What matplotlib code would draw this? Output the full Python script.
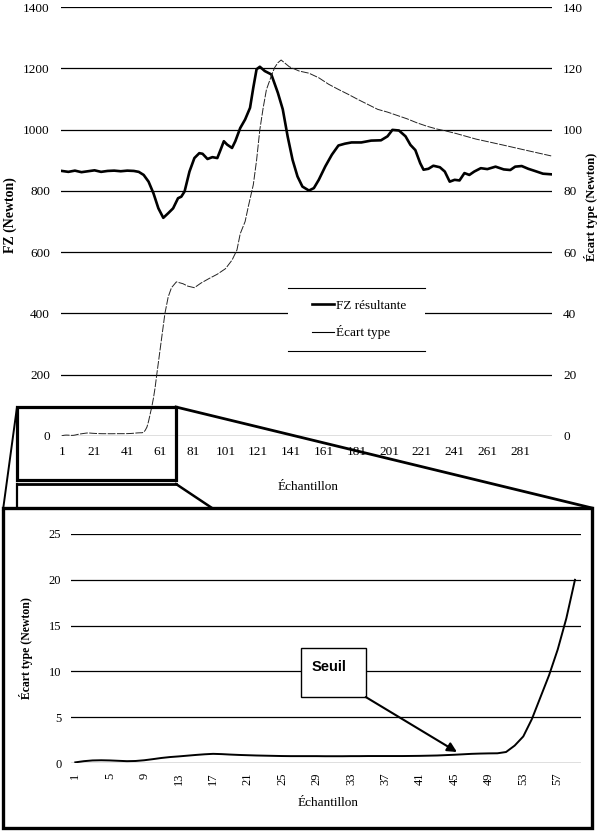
import matplotlib.pyplot as plt
from matplotlib.lines import Line2D
from matplotlib.patches import Rectangle

plt.rcParams['font.family'] = ['Liberation Serif', 'DejaVu Sans']

# --- top chart : FZ resultante (left axis)
fz_x = [1, 5, 9, 13, 17, 21, 25, 29, 33, 37, 41, 45, 48, 51, 54, 57, 60, 63, 66, 69,
        72, 74, 76, 79, 82, 85, 87, 90, 93, 96, 98, 100, 102, 105, 107, 110, 113, 116,
        118, 120, 122, 125, 129, 133, 136, 139, 142, 145, 148, 152, 155, 158, 162, 166,
        170, 174, 178, 184, 190, 196, 200, 203, 207, 211, 214, 217, 220, 222, 225, 228,
        232, 235, 238, 241, 244, 247, 250, 253, 257, 261, 266, 271, 275, 278, 282, 286,
        290, 295, 300]
fz_y = [865, 862, 866, 861, 864, 867, 862, 865, 866, 864, 866, 865, 862, 852, 830, 792,
        743, 712, 727, 743, 776, 781, 798, 863, 907, 923, 921, 904, 910, 907, 934, 962,
        951, 940, 962, 1005, 1033, 1071, 1137, 1197, 1205, 1191, 1180, 1120, 1066, 977,
        901, 847, 814, 801, 809, 836, 880, 918, 948, 954, 958, 958, 964, 965, 978, 999,
        997, 978, 950, 933, 890, 869, 872, 882, 877, 863, 830, 836, 834, 858, 852, 863,
        874, 871, 879, 870, 868, 879, 881, 872, 865, 856, 854]

# --- bottom chart : ecart type, samples 1..59
zoom_x = list(range(1, 60))
zoom_y = [0.07, 0.2, 0.28, 0.3, 0.28, 0.24, 0.2, 0.22, 0.3, 0.42,
          0.55, 0.65, 0.72, 0.8, 0.88, 0.95, 1.0, 0.97, 0.92, 0.88,
          0.85, 0.82, 0.8, 0.78, 0.76, 0.75, 0.75, 0.75, 0.75, 0.74,
          0.74, 0.74, 0.75, 0.75, 0.76, 0.76, 0.76, 0.76, 0.76, 0.77,
          0.78, 0.8, 0.82, 0.86, 0.9, 0.95, 1.0, 1.03, 1.05, 1.06,
          1.2, 1.9, 2.9, 4.8, 7.2, 9.6, 12.4, 15.8, 20.0]

# ecart type after sample 59 (right axis of the top chart)
ecart_x_rest = [61, 62, 64, 66, 68, 71, 75, 78, 82, 86, 91, 96, 101, 105, 108, 110, 113,
                115, 118, 120, 122, 124, 126, 129, 131, 133, 135, 140, 146, 152, 158, 164,
                170, 176, 182, 188, 194, 200, 206, 212, 218, 224, 230, 236, 242, 248, 254,
                260, 271, 285, 300]
ecart_y_rest = [28, 32, 40, 45.4, 48.4, 50.3, 49.7, 48.9, 48.4, 49.9, 51.4, 52.8, 54.6,
                57.4, 60.7, 66, 70, 75, 82, 90, 100, 107, 113, 117.5, 120.2, 121.8, 122.7,
                120.5, 119.1, 118.4, 116.9, 114.8, 113.1, 111.5, 109.8, 108.2, 106.6,
                105.7, 104.6, 103.5, 102.2, 101.1, 100.2, 99.5, 98.7, 97.8, 96.9, 96.2,
                94.9, 93.2, 91.4]

ecart_x = zoom_x + ecart_x_rest
ecart_y = zoom_y + ecart_y_rest

W, H = 602, 831


def fx(px):
    return px / W


def fy(py):
    return 1 - py / H


fig = plt.figure(figsize=(W / 100, H / 100), dpi=100)

# ---------------- top chart
ax = fig.add_axes([fx(61), fy(436), 491 / W, 429 / H])
ax.set_xlim(0.5, 300.5)
ax.set_ylim(0, 1400)
ax.set_yticks(range(0, 1401, 200))
ax.set_xticks(range(1, 300, 20))
ax.grid(axis='y', color='black', lw=0.9)
ax.set_axisbelow(True)
for s in ax.spines.values():
    s.set_visible(False)
ax.tick_params(length=0, labelsize=9.5)
ax.tick_params(axis='y', pad=8)
ax.tick_params(axis='x', pad=7)
ax.plot(fz_x, fz_y, color='black', lw=1.9, zorder=3)
ax.set_ylabel('FZ (Newton)', fontsize=10, fontweight='bold')
ax.yaxis.set_label_coords(-0.09, 0.515)
ax.set_xlabel('Échantillon', fontsize=9.5)
ax.xaxis.set_label_coords(0.503, -0.105)

ax2 = ax.twinx()
ax2.set_ylim(0, 140)
ax2.set_yticks(range(0, 141, 20))
for s in ax2.spines.values():
    s.set_visible(False)
ax2.tick_params(length=0, labelsize=9.5, pad=8)
ax2.plot(ecart_x, ecart_y, color='#222222', lw=0.7, dashes=(8, 1.5), zorder=3)
ax2.set_ylabel('Écart type (Newton)', fontsize=9, fontweight='bold')
ax2.yaxis.set_label_coords(1.065, 0.535)

# legend: white block with a line above and below
lx0, lx1 = (288 - 61) / 491, (425 - 61) / 491
ly0, ly1 = (436 - 351) / 429, (436 - 288) / 429
ax2.add_patch(Rectangle((lx0, ly0), lx1 - lx0, ly1 - ly0, transform=ax2.transAxes,
                        facecolor='white', edgecolor='none', zorder=4))
for yy in (ly0, ly1):
    ax2.plot([lx0, lx1], [yy, yy], transform=ax2.transAxes, color='black', lw=0.8, zorder=5)
handles = [Line2D([], [], color='black', lw=1.9), Line2D([], [], color='black', lw=0.8)]
leg = ax2.legend(handles, ['FZ résultante', 'Écart type'], loc='center',
                 bbox_to_anchor=((lx0 + lx1) / 2 + 0.006, (ly0 + ly1) / 2), frameon=False,
                 fontsize=9.5, handlelength=1.6, handletextpad=0.2, labelspacing=1.0)
leg.set_zorder(6)

# ---------------- zoom box and connectors (figure pixels)
fig.add_artist(Rectangle((fx(17), fy(480)), 159 / W, 73 / H, transform=fig.transFigure,
                         fill=False, edgecolor='black', lw=2.3))
connectors = [((17, 407), (3, 510), 1.4), ((176, 407), (592, 508), 2.0),
              ((17, 484), (176, 484), 2.0), ((17, 484), (17, 508), 1.6),
              ((176, 484), (212, 508), 1.8)]
for (x0, y0), (x1, y1), lw in connectors:
    fig.add_artist(Line2D([fx(x0), fx(x1)], [fy(y0), fy(y1)], transform=fig.transFigure,
                          color='black', lw=lw))

# panel frame for the zoomed chart
fig.add_artist(Rectangle((fx(3), fy(828)), 589 / W, 320 / H, transform=fig.transFigure,
                         fill=False, edgecolor='black', lw=2.4))

# ---------------- bottom chart
bx = fig.add_axes([fx(71), fy(763), 510 / W, 229 / H])
bx.set_xlim(0.5, 59.7)
bx.set_ylim(0, 25)
bx.set_yticks(range(0, 26, 5))
bx.set_xticks(range(1, 60, 4))
bx.tick_params(axis='x', rotation=90, pad=7)
bx.tick_params(axis='y', pad=7)
bx.tick_params(length=0, labelsize=9)
bx.grid(axis='y', color='black', lw=0.9)
bx.set_axisbelow(True)
for s in bx.spines.values():
    s.set_visible(False)
bx.plot(zoom_x, zoom_y, color='black', lw=1.4, zorder=3)
bx.set_ylabel('Écart type (Newton)', fontsize=8.5, fontweight='bold')
bx.yaxis.set_label_coords(-0.075, 0.5)
bx.set_xlabel('Échantillon', fontsize=9.5)
bx.xaxis.set_label_coords(0.504, -0.148)

bx.add_patch(Rectangle((0.450, 0.288), 0.128, 0.214, transform=bx.transAxes,
                       facecolor='white', edgecolor='black', lw=1.0, zorder=4))
bx.text(0.506, 0.42, 'Seuil', transform=bx.transAxes, ha='center', va='center',
        fontsize=10.5, fontweight='bold', family=['Liberation Sans', 'DejaVu Sans'], zorder=5)
bx.annotate('', xy=(45.3, 1.2), xycoords='data', xytext=(0.578, 0.288),
            textcoords='axes fraction',
            arrowprops=dict(arrowstyle='-|>', color='black', lw=1.5, mutation_scale=14,
                            shrinkA=0, shrinkB=0), zorder=5)

fig.savefig('out.png', dpi=100)
